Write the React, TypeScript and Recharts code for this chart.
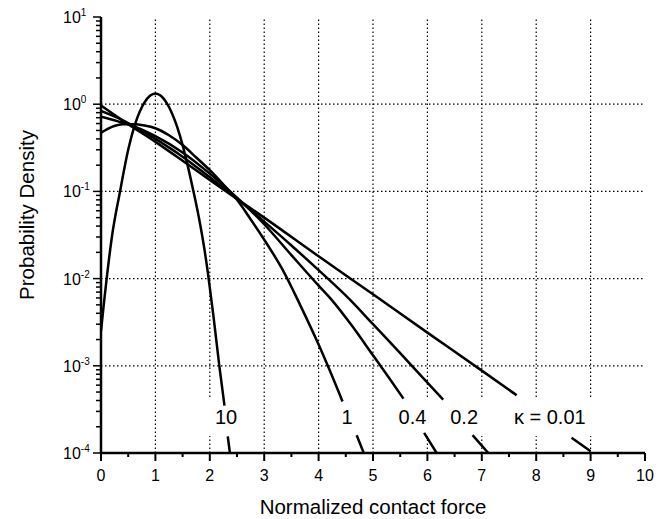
import React from "react";
import { LineChart, Line, XAxis, YAxis, ReferenceLine, ReferenceArea } from "recharts";

const FONT = "'Liberation Sans', Arial, Helvetica, sans-serif";

type Pt = { x: number; y: number | null };

// values; null marks where the label breaks the curve
const KAPPA_10: Pt[] = [
  { x: 0, y: 2.5e-3 }, { x: 0.05, y: 5e-3 }, { x: 0.1, y: 9.5e-3 }, { x: 0.2, y: 0.03 },
  { x: 0.35, y: 0.1 }, { x: 0.5, y: 0.3 }, { x: 0.63, y: 0.6 }, { x: 0.8, y: 1.05 },
  { x: 0.9, y: 1.25 }, { x: 1.0, y: 1.33 }, { x: 1.1, y: 1.25 }, { x: 1.2, y: 1.05 },
  { x: 1.3, y: 0.8 }, { x: 1.4, y: 0.55 }, { x: 1.5, y: 0.34 }, { x: 1.6, y: 0.19 },
  { x: 1.7, y: 0.1 }, { x: 1.8, y: 0.05 }, { x: 1.9, y: 0.022 }, { x: 1.97, y: 0.011 },
  { x: 2.07, y: 3.6e-3 }, { x: 2.175, y: 1.0e-3 }, { x: 2.27, y: 3.5e-4 },
  { x: 2.3, y: null },
  { x: 2.33, y: 1.55e-4 }, { x: 2.37, y: 1.0e-4 },
];

const KAPPA_1: Pt[] = [
  { x: 0, y: 0.47 }, { x: 0.2, y: 0.55 }, { x: 0.4, y: 0.59 }, { x: 0.6, y: 0.59 },
  { x: 0.8, y: 0.57 }, { x: 1.0, y: 0.53 }, { x: 1.25, y: 0.44 }, { x: 1.5, y: 0.34 },
  { x: 1.75, y: 0.245 }, { x: 2.0, y: 0.175 }, { x: 2.25, y: 0.12 }, { x: 2.5, y: 0.08 },
  { x: 2.75, y: 0.048 }, { x: 3.0, y: 0.028 }, { x: 3.33, y: 0.0129 }, { x: 3.66, y: 5.0e-3 },
  { x: 4.0, y: 1.75e-3 }, { x: 4.2, y: 9.0e-4 }, { x: 4.44, y: 3.9e-4 },
  { x: 4.55, y: null },
  { x: 4.7, y: 1.6e-4 }, { x: 4.83, y: 1.0e-4 },
];

const KAPPA_04: Pt[] = [
  { x: 0, y: 0.72 }, { x: 0.3, y: 0.64 }, { x: 0.6, y: 0.56 }, { x: 1.0, y: 0.43 },
  { x: 1.5, y: 0.28 }, { x: 2.0, y: 0.16 }, { x: 2.5, y: 0.085 }, { x: 3.0, y: 0.042 },
  { x: 3.5, y: 0.0186 }, { x: 4.0, y: 8.3e-3 }, { x: 4.24, y: 5.7e-3 }, { x: 4.6, y: 2.95e-3 },
  { x: 5.0, y: 1.32e-3 }, { x: 5.3, y: 7.2e-4 }, { x: 5.56, y: 4.2e-4 },
  { x: 5.7, y: null },
  { x: 5.94, y: 1.7e-4 }, { x: 6.17, y: 1.0e-4 },
];

const KAPPA_02: Pt[] = [
  { x: 0, y: 0.84 }, { x: 0.3, y: 0.7 }, { x: 0.6, y: 0.56 }, { x: 1.0, y: 0.4 },
  { x: 1.5, y: 0.25 }, { x: 2.0, y: 0.145 }, { x: 2.5, y: 0.083 }, { x: 3.0, y: 0.045 },
  { x: 3.5, y: 0.024 }, { x: 4.0, y: 0.0125 }, { x: 4.58, y: 5.7e-3 }, { x: 5.0, y: 3.0e-3 },
  { x: 5.5, y: 1.4e-3 }, { x: 6.0, y: 6.4e-4 }, { x: 6.29, y: 4.1e-4 },
  { x: 6.5, y: null },
  { x: 6.83, y: 1.6e-4 }, { x: 7.12, y: 1.0e-4 },
];

const KAPPA_001: Pt[] = [
  { x: 0, y: 0.97 }, { x: 0.5, y: 0.59 }, { x: 1.0, y: 0.37 }, { x: 1.5, y: 0.225 },
  { x: 2.0, y: 0.135 }, { x: 2.5, y: 0.082 }, { x: 3.0, y: 0.05 }, { x: 4.0, y: 0.018 },
  { x: 5.0, y: 6.6e-3 }, { x: 6.0, y: 2.4e-3 }, { x: 7.0, y: 8.8e-4 }, { x: 7.64, y: 4.6e-4 },
  { x: 8.0, y: null },
  { x: 8.65, y: 1.5e-4 }, { x: 9.0, y: 1.05e-4 },
];

const SERIES = [
  { key: "k10", data: KAPPA_10 },
  { key: "k1", data: KAPPA_1 },
  { key: "k04", data: KAPPA_04 },
  { key: "k02", data: KAPPA_02 },
  { key: "k001", data: KAPPA_001 },
];

const X_TICKS = [0, 0.5, 1, 1.5, 2, 2.5, 3, 3.5, 4, 4.5, 5, 5.5, 6, 6.5, 7, 7.5, 8, 8.5, 9, 9.5, 10];
const Y_DECADES = [1e-4, 1e-3, 1e-2, 1e-1, 1, 10];
const Y_TICKS = Y_DECADES.flatMap((d, i) =>
  i === Y_DECADES.length - 1 ? [d] : [1, 2, 3, 4, 5, 6, 7, 8, 9].map((m) => m * d)
);
const GRID_X = [1, 2, 3, 4, 5, 6, 7, 8, 9];
const GRID_Y = [1e-3, 1e-2, 1e-1, 1];

// curve labels sit in white boxes that break the curves and grid
const CURVE_LABELS = [
  { text: "10", x1: 1.95, x2: 2.65 },
  { text: "1", x1: 4.3, x2: 4.75 },
  { text: "0.4", x1: 5.3, x2: 6.15 },
  { text: "0.2", x1: 6.25, x2: 7.1 },
  { text: "κ = 0.01", x1: 7.4, x2: 9.1 },
];
const LABEL_BAND = [1.57e-4, 4.4e-4];

function XTick(props: any) {
  const { x, y, payload } = props;
  const v = payload.value;
  const major = Math.abs(v - Math.round(v)) < 1e-9;
  return (
    <g>
      <line x1={x} x2={x} y1={y} y2={y + (major ? 8 : 4)} stroke="#000" strokeWidth={2} />
      {major && (
        <text x={x} y={y + 28} textAnchor="middle" fontSize={16} fontFamily={FONT} fill="#000">
          {v}
        </text>
      )}
    </g>
  );
}

function YTick(props: any) {
  const { x, y, payload } = props;
  const lg = Math.log10(payload.value);
  const e = Math.round(lg);
  const major = Math.abs(lg - e) < 1e-6;
  return (
    <g>
      <line x1={x - (major ? 8 : 5)} x2={x} y1={y} y2={y} stroke="#000" strokeWidth={1.5} />
      {major && (
        <text x={x - 38} y={y + 6} fontSize={16} fontFamily={FONT} fill="#000">
          <tspan>10</tspan>
          <tspan dy={-7} fontSize={10}>{e}</tspan>
        </text>
      )}
    </g>
  );
}

function XTitle(props: any) {
  const vb = props.viewBox;
  return (
    <text x={vb.x + vb.width / 2} y={vb.y + 61} textAnchor="middle" fontSize={20.5} fontFamily={FONT} fill="#000">
      Normalized contact force
    </text>
  );
}

function YTitle(props: any) {
  const vb = props.viewBox;
  const cx = 26;
  const cy = vb.y + vb.height / 2 - 20;
  return (
    <text x={cx} y={cy} transform={`rotate(-90, ${cx}, ${cy})`} textAnchor="middle" fontSize={20.5} fontFamily={FONT} fill="#000">
      Probability Density
    </text>
  );
}

export default function App() {
  return (
    <div style={{ width: 661, height: 511, background: "#fff" }}>
      <LineChart width={661} height={511} margin={{ top: 9, right: 24, bottom: 0, left: 0 }}>
        <XAxis
          type="number"
          dataKey="x"
          domain={[0, 10]}
          ticks={X_TICKS}
          interval={0}
          height={66}
          tickSize={0}
          tickMargin={0}
          tickLine={false}
          tick={<XTick />}
          axisLine={{ stroke: "#000", strokeWidth: 2.5 }}
          allowDataOverflow
          label={{ content: XTitle }}
        />
        <YAxis
          type="number"
          scale="log"
          domain={[1e-4, 10]}
          ticks={Y_TICKS}
          interval={0}
          width={93}
          tickSize={0}
          tickMargin={0}
          tickLine={false}
          tick={<YTick />}
          axisLine={{ stroke: "#000", strokeWidth: 2.5 }}
          allowDataOverflow
          label={{ content: YTitle }}
        />
        {GRID_X.map((v) => (
          <ReferenceLine key={"gx" + v} x={v} stroke="#000" strokeWidth={1.2} strokeDasharray="1.5 2.5" zIndex={10} />
        ))}
        {GRID_Y.map((v) => (
          <ReferenceLine key={"gy" + v} y={v} stroke="#000" strokeWidth={1.2} strokeDasharray="1.5 2.5" zIndex={10} />
        ))}
        {CURVE_LABELS.map((l) => (
          <ReferenceArea
            key={l.text}
            x1={l.x1}
            x2={l.x2}
            y1={LABEL_BAND[0]}
            y2={LABEL_BAND[1]}
            fill="#fff"
            fillOpacity={1}
            stroke="none"
            zIndex={20}
            label={{ value: l.text, position: "center", fill: "#000", fontSize: 20, fontFamily: FONT }}
          />
        ))}
        {SERIES.map((s) => (
          <Line
            key={s.key}
            data={s.data}
            dataKey="y"
            type="monotone"
            stroke="#000"
            strokeWidth={2.5}
            dot={false}
            activeDot={false}
            connectNulls={false}
            isAnimationActive={false}
          />
        ))}
      </LineChart>
    </div>
  );
}
